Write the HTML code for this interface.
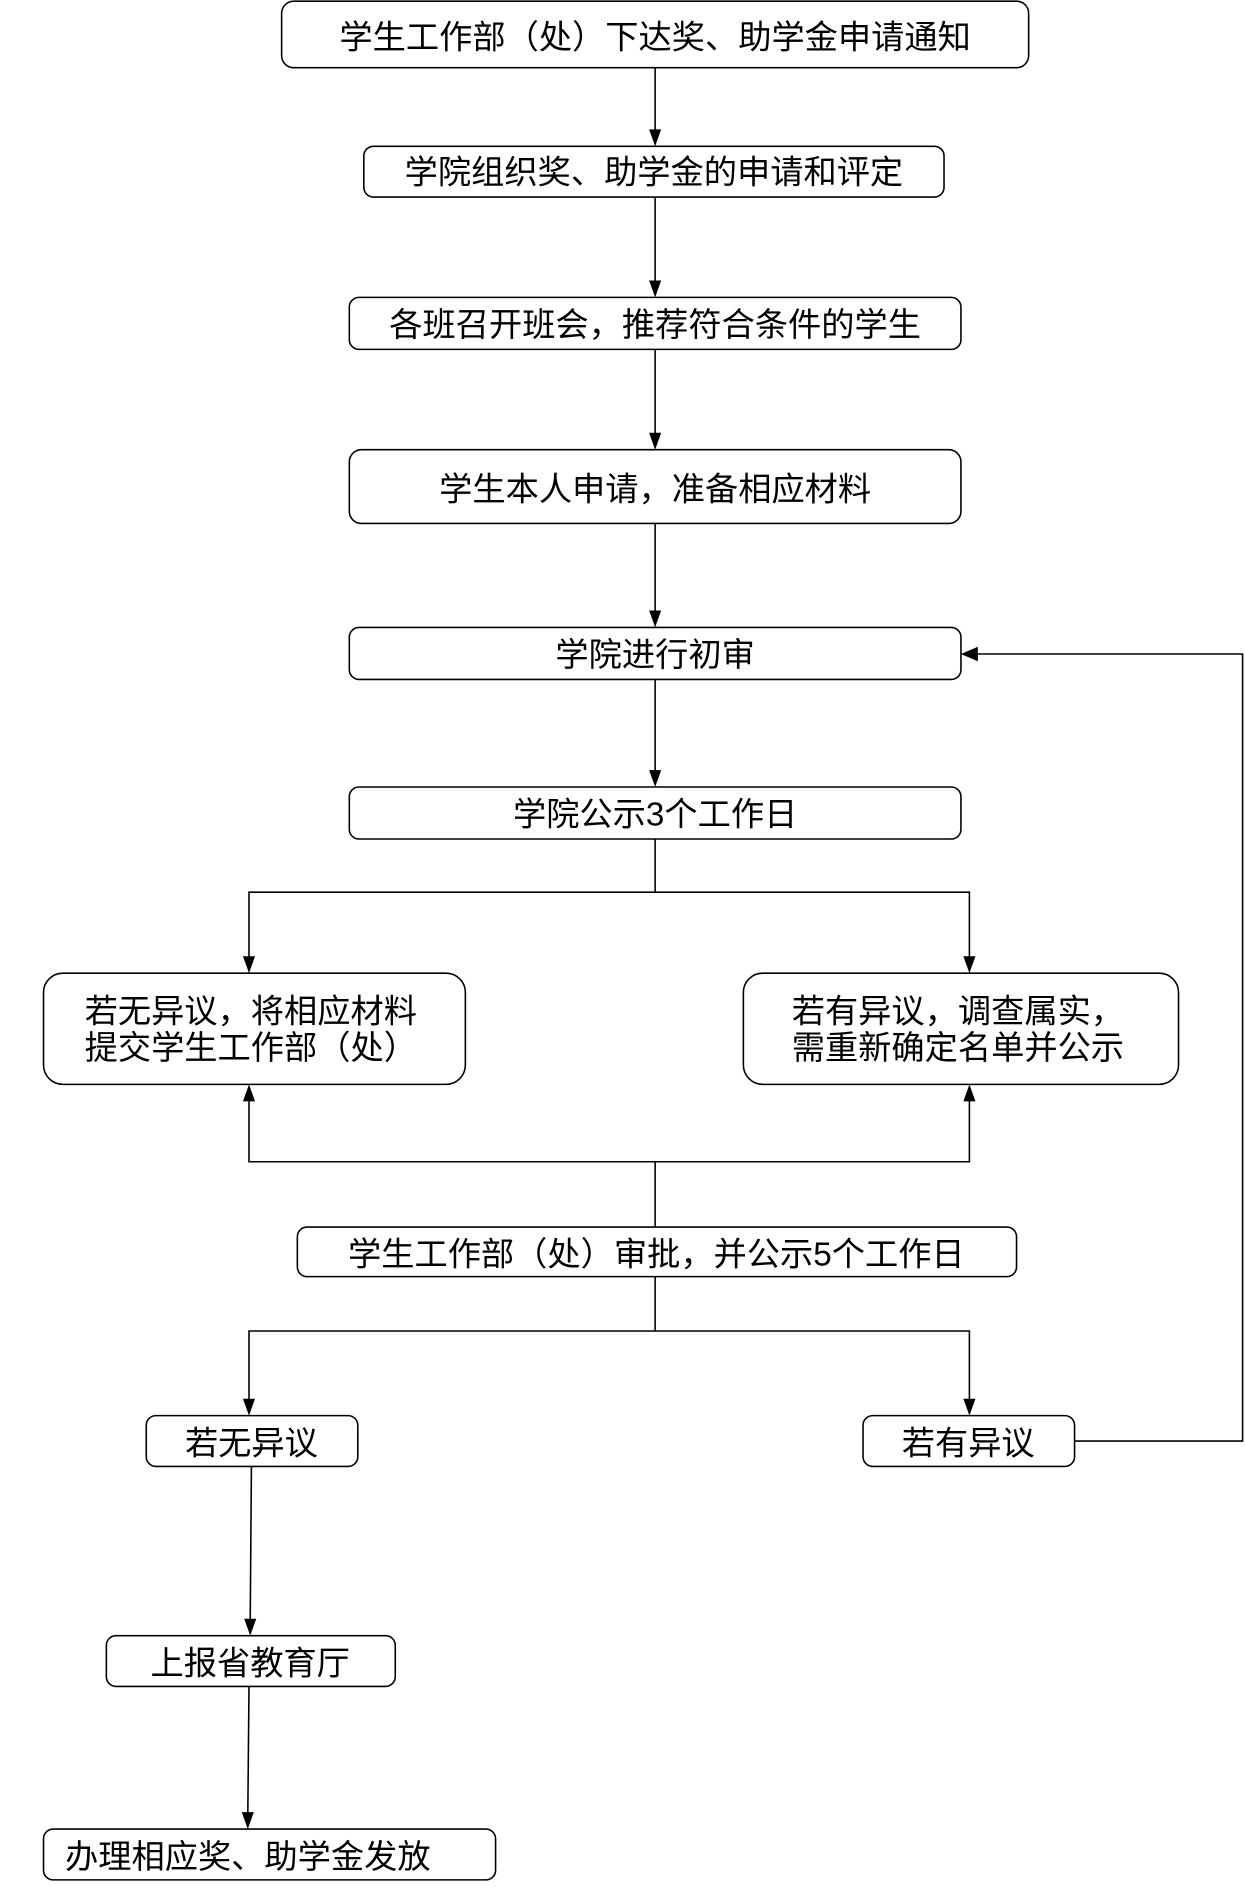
<!DOCTYPE html>
<html><head><meta charset="utf-8"><style>
html,body{margin:0;padding:0;background:#fff;}
svg{display:block;}
text{font-family:"Liberation Sans","Noto Sans CJK SC",sans-serif;font-size:27.5px;fill:#000;}
</style></head><body>
<svg width="1245" height="1898" viewBox="0 0 1030 1570" preserveAspectRatio="none" xmlns="http://www.w3.org/2000/svg">
<g fill="none" stroke="#000" stroke-width="1.3">
<rect x="233" y="1" width="618" height="55" rx="10"/>
<rect x="301" y="121" width="480" height="42" rx="8"/>
<rect x="289" y="246" width="506" height="43" rx="8"/>
<rect x="289" y="372" width="506" height="61" rx="10"/>
<rect x="289" y="519" width="506" height="43" rx="8"/>
<rect x="289" y="651" width="506" height="43" rx="8"/>
<rect x="36" y="805" width="349" height="92" rx="16"/>
<rect x="615" y="805" width="360" height="92" rx="16"/>
<rect x="246" y="1015" width="595" height="41" rx="8"/>
<rect x="121" y="1171" width="175" height="42" rx="8"/>
<rect x="714" y="1171" width="175" height="42" rx="8"/>
<rect x="88" y="1353" width="239" height="42" rx="8"/>
<rect x="36" y="1513" width="374" height="42" rx="8"/>
</g>
<g fill="none" stroke="#000" stroke-width="1.3">
<line x1="542" y1="56" x2="542" y2="110"/>
<line x1="542" y1="163" x2="542" y2="235"/>
<line x1="542" y1="289" x2="542" y2="361"/>
<line x1="542" y1="433" x2="542" y2="508"/>
<line x1="542" y1="562" x2="542" y2="640"/>
<polyline points="542,694 542,738 206,738 206,794"/>
<polyline points="542,738 802,738 802,794"/>
<polyline points="542,1015 542,961 206,961 206,908"/>
<polyline points="542,961 802,961 802,908"/>
<polyline points="542,1056 542,1101 206,1101 206,1160"/>
<polyline points="542,1101 802,1101 802,1160"/>
<line x1="208" y1="1213" x2="207" y2="1342"/>
<line x1="206" y1="1395" x2="205" y2="1502"/>
<polyline points="889,1192 1028,1192 1028,541 808,541"/>
</g>
<g fill="#000">
<path d="M537,107 L547,107 L542,121 z"/>
<path d="M537,232 L547,232 L542,246 z"/>
<path d="M537,358 L547,358 L542,372 z"/>
<path d="M537,505 L547,505 L542,519 z"/>
<path d="M537,637 L547,637 L542,651 z"/>
<path d="M201,791 L211,791 L206,805 z"/>
<path d="M797,791 L807,791 L802,805 z"/>
<path d="M201,911 L211,911 L206,897 z"/>
<path d="M797,911 L807,911 L802,897 z"/>
<path d="M201,1157 L211,1157 L206,1171 z"/>
<path d="M797,1157 L807,1157 L802,1171 z"/>
<path d="M202,1339 L212,1339 L207,1353 z"/>
<path d="M200,1499 L210,1499 L205,1513 z"/>
<path d="M795,541 L809,535 L809,547 z"/>
</g>
<g text-anchor="middle">
<text x="542" y="40">学生工作部（处）下达奖、助学金申请通知</text>
<text x="541" y="152">学院组织奖、助学金的申请和评定</text>
<text x="542" y="278">各班召开班会，推荐符合条件的学生</text>
<text x="542" y="414">学生本人申请，准备相应材料</text>
<text x="542" y="551">学院进行初审</text>
<text x="542" y="683">学院公示3个工作日</text>
<text x="543" y="1047">学生工作部（处）审批，并公示5个工作日</text>
<text x="208" y="1203">若无异议</text>
<text x="801" y="1203">若有异议</text>
<text x="207" y="1385">上报省教育厅</text>
<text x="205" y="1545">办理相应奖、助学金发放</text>
</g>
<text x="70" y="846">若无异议，将相应材料</text>
<text x="70" y="876">提交学生工作部（处）</text>
<text x="655" y="846">若有异议，调查属实，</text>
<text x="655" y="876">需重新确定名单并公示</text>
</svg>
</body></html>
